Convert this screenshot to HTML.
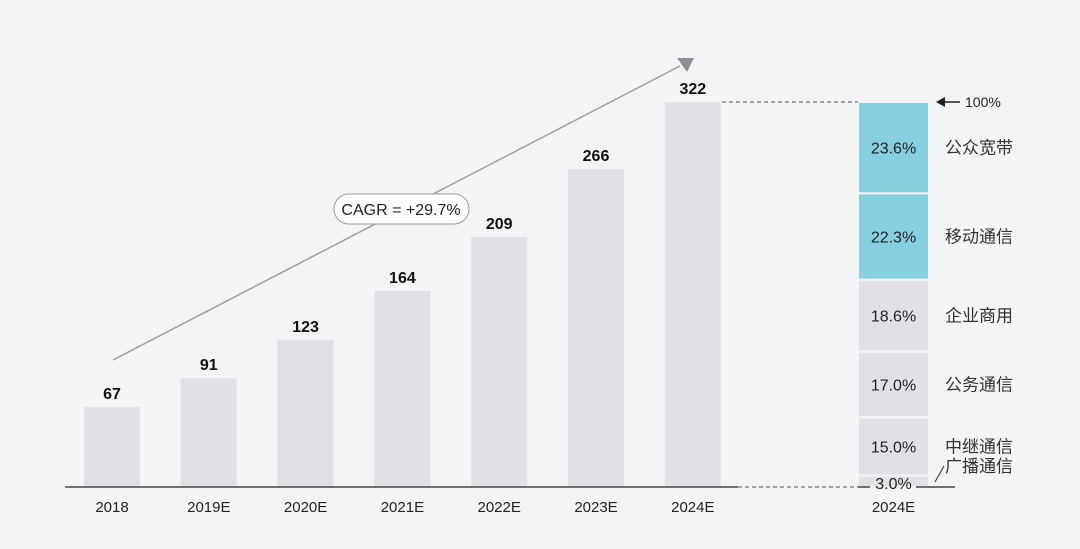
<!DOCTYPE html>
<html><head><meta charset="utf-8"><style>
body{margin:0;background:#f3f4f6;}
svg{display:block;font-family:"Liberation Sans","Noto Sans CJK SC",sans-serif;}
</style></head><body>
<svg id="c" width="1080" height="549" viewBox="0 0 1080 549">
<rect width="1080" height="549" fill="#f3f4f6"/>
</svg>
<script>
const categories=["2018","2019E","2020E","2021E","2022E","2023E","2024E"];
const values=[67,91,123,164,209,266,322];
const segLabels=["广播通信","中继通信","公务通信","企业商用","移动通信","公众宽带"];
const segValues=[3.0,15.0,17.0,18.6,22.3,23.6];
const segHighlight=[false,false,false,false,true,true];
const cagrText="CAGR = +29.7%";

const NS="http://www.w3.org/2000/svg";
const svg=document.getElementById("c");
function mk(t,a,txt){const e=document.createElementNS(NS,t);for(const k in a)e.setAttribute(k,a[k]);if(txt!==undefined)e.textContent=txt;svg.appendChild(e);return e;}
const base=487, maxV=322, topY=102;
const y=v=>base-v*(base-topY)/maxV;
const x0=84, step=96.8, bw=56;
const bx=i=>x0+i*step;

// CAGR arrow
let l=mk("line",{x1:113,y1:360,x2:680,y2:66,stroke:"#a0a0a4","stroke-width":1.5});

let p=mk("polygon",{points:"677,58 694,58 687,72",fill:"#8d8f94"});

let r=mk("rect",{x:334,y:194,width:135,height:30,rx:15,fill:"#fff",stroke:"#9a9a9e","stroke-width":1});

let ct=mk("text",{x:401,y:215,"text-anchor":"middle","font-size":16,fill:"#222"},cagrText);


values.forEach((v,i)=>{
  const b=mk("rect",{x:bx(i),y:y(v),width:bw,height:base-y(v),fill:"#e0e1e4"});
  
  
  const t=mk("text",{x:bx(i)+bw/2,y:y(v)-8,"text-anchor":"middle","font-size":16,"font-weight":"bold",fill:"#111"},String(v));
  
  
  const c=mk("text",{x:bx(i)+bw/2,y:512,"text-anchor":"middle","font-size":15,fill:"#222"},categories[i]);
  
  
});

// stacked bar
const sx=858, sw=71;
const total=segValues.reduce((a,b)=>a+b,0);
let acc=0;
segValues.forEach((v,i)=>{
  const yb=base-acc/total*(base-topY);
  acc+=v;
  const yt=base-acc/total*(base-topY);
  const s=mk("rect",{x:sx,y:yt,width:sw,height:yb-yt,fill:segHighlight[i]?"#86cfdf":"#e0e1e4",stroke:"#f3f4f6","stroke-width":2});
  
  
  const small=(yb-yt)<20;
  const ty=small?base+2:(yt+yb)/2+6;
  const t=mk("text",{x:sx+sw/2,y:ty,"text-anchor":"middle","font-size":16,fill:"#222"},v.toFixed(1)+"%");
  
  
  const ly=small?base-15:(yt+yb)/2+6;
  const lt=mk("text",{x:945,y:ly,"font-size":17,fill:"#333"},segLabels[i]);
  
  
});
let lead=mk("line",{x1:935,y1:482,x2:944,y2:466,stroke:"#444","stroke-width":1.2});


// axes / dashed connectors
let ax=mk("line",{x1:65,y1:base,x2:738,y2:base,stroke:"#444","stroke-width":1.5});

let d1=mk("line",{x1:738,y1:base,x2:858,y2:base,stroke:"#555","stroke-width":1,"stroke-dasharray":"4,3"});

let ax2=mk("line",{x1:858,y1:base,x2:870,y2:base,stroke:"#444","stroke-width":1.5});

let ax3=mk("line",{x1:916,y1:base,x2:955,y2:base,stroke:"#444","stroke-width":1.5});

let d2=mk("line",{x1:722,y1:topY,x2:858,y2:topY,stroke:"#555","stroke-width":1,"stroke-dasharray":"4,3"});

let sl=mk("text",{x:sx+sw/2,y:512,"text-anchor":"middle","font-size":15,fill:"#222"},"2024E");

// 100% marker
let ar=mk("line",{x1:943,y1:102,x2:960,y2:102,stroke:"#222","stroke-width":1.5});

let ah=mk("polygon",{points:"936,102 945,97 945,107",fill:"#222"});

let ht=mk("text",{x:965,y:107,"font-size":14,fill:"#222"},"100%");

</script>
</body></html>
